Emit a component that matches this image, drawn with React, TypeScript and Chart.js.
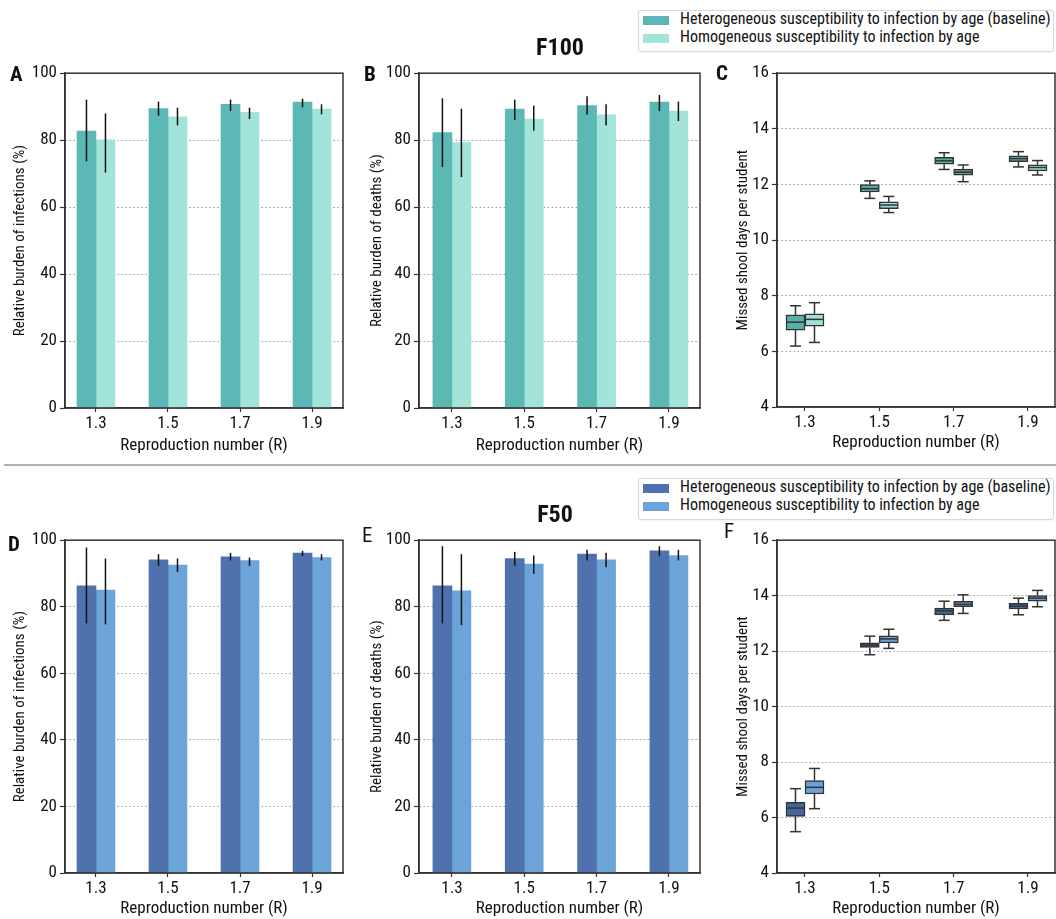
import React, { useEffect, useRef } from 'react';
import { Chart, registerables } from 'chart.js';

Chart.register(...registerables);

// ---------------- DATA ----------------
const R_VALUES = [1.3, 1.5, 1.7, 1.9];
const SERIES = [
  'Heterogeneous susceptibility to infection by age (baseline)',
  'Homogeneous susceptibility to infection by age',
];
const PANEL_TITLES = ['F100', 'F50'];
const Y_TITLES = ['Relative burden of infections (%)', 'Relative burden of deaths (%)', 'Missed shool days per student'];
const X_TITLE = 'Reproduction number (R)';

// A: F100 infections
const A_HET = [82.7, 89.4, 90.7, 91.4];
const A_HET_LO = [73.7, 87.3, 88.7, 89.8];
const A_HET_HI = [92.1, 91.5, 92.1, 92.4];
const A_HOM = [80.1, 87.0, 88.3, 89.3];
const A_HOM_LO = [70.3, 84.4, 86.3, 87.7];
const A_HOM_HI = [88.0, 89.7, 89.7, 90.7];

// B: F100 deaths
const B_HET = [82.3, 89.3, 90.3, 91.4];
const B_HET_LO = [72.0, 86.0, 87.7, 88.7];
const B_HET_HI = [92.5, 92.1, 93.1, 93.5];
const B_HOM = [79.3, 86.3, 87.6, 88.7];
const B_HOM_LO = [69.0, 82.8, 84.4, 85.7];
const B_HOM_HI = [89.4, 90.3, 90.7, 91.5];

// C: F100 missed school days [min, q1, median, q3, max]
const C_HET_BOX = [
  [6.19, 6.76, 7.05, 7.31, 7.64],
  [11.5, 11.73, 11.85, 12.0, 12.13],
  [12.54, 12.73, 12.85, 12.98, 13.14],
  [12.63, 12.82, 12.93, 13.03, 13.18],
];
const C_HOM_BOX = [
  [6.32, 6.91, 7.15, 7.35, 7.75],
  [10.99, 11.13, 11.26, 11.38, 11.57],
  [12.1, 12.33, 12.44, 12.55, 12.7],
  [12.34, 12.49, 12.61, 12.71, 12.86],
];

// D: F50 infections
const D_HET = [86.3, 94.1, 95.0, 96.1];
const D_HET_LO = [75.0, 92.3, 93.9, 95.3];
const D_HET_HI = [97.8, 95.8, 96.2, 96.8];
const D_HOM = [85.0, 92.5, 93.9, 94.8];
const D_HOM_LO = [74.7, 90.5, 92.3, 93.9];
const D_HOM_HI = [94.5, 94.5, 94.8, 95.8];

// E: F50 deaths
const E_HET = [86.3, 94.5, 95.8, 96.8];
const E_HET_LO = [75.0, 92.3, 93.9, 95.2];
const E_HET_HI = [98.2, 96.5, 97.1, 98.2];
const E_HOM = [84.8, 92.8, 94.1, 95.4];
const E_HOM_LO = [74.5, 89.9, 91.9, 93.9];
const E_HOM_HI = [95.8, 95.4, 96.2, 97.1];

// F: F50 missed school days [min, q1, median, q3, max]
const F_HET_BOX = [
  [5.49, 6.04, 6.34, 6.55, 7.04],
  [11.87, 12.13, 12.22, 12.3, 12.54],
  [13.11, 13.31, 13.45, 13.55, 13.8],
  [13.31, 13.52, 13.62, 13.72, 13.91],
];
const F_HOM_BOX = [
  [6.32, 6.85, 7.09, 7.33, 7.77],
  [12.1, 12.3, 12.44, 12.55, 12.79],
  [13.36, 13.6, 13.69, 13.8, 14.03],
  [13.6, 13.8, 13.91, 14.0, 14.19],
];

// ---------------- STYLE ----------------
const FONT = "'Roboto Condensed', 'Liberation Sans Narrow', Roboto, sans-serif";
const TEXT = '#111';
const AXIS = '#333';
const GRID = '#9a9a9a';
const TEAL = ['#5cb8b4', '#a2e3da'];
const BLUE = ['#4f72ae', '#6ca3d8'];
const C_BOX_COLORS = [['#55b0ac', '#55b0ac', '#55b0ac', '#55b0ac'], ['#a0e0d8', '#a0e0d8', '#5f9e98', '#a0e0d8']];
const F_BOX_COLORS = [['#4466a0', '#4466a0', '#4466a0', '#4466a0'], ['#6aa2d8', '#6aa2d8', '#6aa2d8', '#6aa2d8']];

Chart.defaults.font.family = FONT;

type Geo = {
  left: number; top: number; width: number; height: number;
  padTop: number; padRight: number; yWidth: number; xHeight: number;
  yTitlePad: number; xTitlePad: number; xMin: number; xMax: number;
};

const framePlugin = {
  id: 'frame',
  afterDraw(chart: any) {
    const { ctx, chartArea: a } = chart;
    ctx.save();
    ctx.strokeStyle = AXIS;
    ctx.lineWidth = 1.5;
    ctx.strokeRect(a.left, a.top, a.right - a.left, a.bottom - a.top);
    ctx.restore();
  },
};

function errorBarPlugin(ranges: number[][][]) {
  return {
    id: 'errorBars',
    afterDatasetsDraw(chart: any) {
      const { ctx } = chart;
      const y = chart.scales.y;
      ctx.save();
      ctx.strokeStyle = '#111';
      ctx.lineWidth = 1.5;
      ranges.forEach((r, di) => {
        const meta = chart.getDatasetMeta(di);
        meta.data.forEach((el: any, i: number) => {
          ctx.beginPath();
          ctx.moveTo(el.x, y.getPixelForValue(r[0][i]));
          ctx.lineTo(el.x, y.getPixelForValue(r[1][i]));
          ctx.stroke();
        });
      });
      ctx.restore();
    },
  };
}

function boxPlugin(boxes: number[][][]) {
  return {
    id: 'boxWhiskers',
    afterDatasetsDraw(chart: any) {
      const { ctx } = chart;
      const y = chart.scales.y;
      ctx.save();
      ctx.strokeStyle = '#333';
      ctx.lineWidth = 1.5;
      const line = (x1: number, y1: number, x2: number, y2: number) => {
        ctx.beginPath();
        ctx.moveTo(x1, y1);
        ctx.lineTo(x2, y2);
        ctx.stroke();
      };
      boxes.forEach((set, di) => {
        const meta = chart.getDatasetMeta(di);
        meta.data.forEach((el: any, i: number) => {
          const [mn, q1, md, q3, mx] = set[i];
          const x = el.x;
          const w = el.width;
          const pMin = y.getPixelForValue(mn);
          const pMax = y.getPixelForValue(mx);
          line(x, y.getPixelForValue(q3), x, pMax);
          line(x, y.getPixelForValue(q1), x, pMin);
          line(x - 5.5, pMax, x + 5.5, pMax);
          line(x - 5.5, pMin, x + 5.5, pMin);
          const pMd = y.getPixelForValue(md);
          line(x - w / 2 + 1, pMd, x + w / 2 - 1, pMd);
        });
      });
      ctx.restore();
    },
  };
}

function baseOptions(g: Geo, yMin: number, yMax: number, yStep: number, yTitle: string) {
  return {
    responsive: false,
    maintainAspectRatio: false,
    animation: false,
    layout: { padding: { top: g.padTop, right: g.padRight, left: 0, bottom: 0 } },
    plugins: { legend: { display: false }, tooltip: { enabled: false }, title: { display: false } },
    scales: {
      x: {
        type: 'linear',
        min: g.xMin,
        max: g.xMax,
        offset: false,
        afterBuildTicks: (s: any) => {
          s.ticks = R_VALUES.map((v) => ({ value: v }));
        },
        afterFit: (s: any) => {
          s.height = g.xHeight;
        },
        ticks: {
          callback: (v: any) => Number(v).toFixed(1),
          autoSkip: false,
          maxRotation: 0,
          padding: 2,
          color: TEXT,
          font: { size: 17 },
        },
        grid: { offset: false, drawOnChartArea: false, drawTicks: true, tickLength: 4, tickColor: AXIS, tickWidth: 1.2 },
        border: { color: AXIS, width: 1.5 },
        title: { display: true, text: X_TITLE, color: TEXT, font: { size: 17 }, padding: { top: 0, bottom: g.xTitlePad } },
      },
      y: {
        type: 'linear',
        min: yMin,
        max: yMax,
        afterFit: (s: any) => {
          s.width = g.yWidth;
        },
        ticks: { stepSize: yStep, padding: 3, color: TEXT, font: { size: 17 } },
        grid: {
          color: (c: any) => (c.tick && (c.tick.value === yMin || c.tick.value === yMax) ? 'rgba(0,0,0,0)' : GRID),
          lineWidth: 1,
          tickLength: 5,
          tickColor: AXIS,
          tickWidth: 1.2,
        },
        border: { color: AXIS, width: 1.5, dash: [1.5, 2.5] },
        title: { display: true, text: yTitle, color: TEXT, font: { size: 15 }, padding: { top: g.yTitlePad, bottom: 0 } },
      },
    },
  };
}

function barConfig(
  g: Geo, het: number[], hom: number[], hetLo: number[], hetHi: number[], homLo: number[], homHi: number[],
  colors: string[], yTitle: string,
) {
  return {
    type: 'bar',
    data: {
      datasets: [
        { label: SERIES[0], data: R_VALUES.map((x, i) => ({ x, y: het[i] })), backgroundColor: colors[0], barThickness: 19 },
        { label: SERIES[1], data: R_VALUES.map((x, i) => ({ x, y: hom[i] })), backgroundColor: colors[1], barThickness: 19 },
      ],
    },
    options: baseOptions(g, 0, 100, 20, yTitle),
    plugins: [framePlugin, errorBarPlugin([[hetLo, hetHi], [homLo, homHi]])],
  };
}

function boxConfig(g: Geo, het: number[][], hom: number[][], colors: string[][], yTitle: string) {
  return {
    type: 'bar',
    data: {
      datasets: [het, hom].map((set, di) => ({
        label: SERIES[di],
        data: R_VALUES.map((x, i) => ({ x, y: [set[i][1], set[i][3]] })),
        backgroundColor: colors[di],
        borderColor: '#333',
        borderWidth: 1.5,
        borderSkipped: false,
        barThickness: 19,
      })),
    },
    options: baseOptions(g, 4, 16, 2, yTitle),
    plugins: [framePlugin, boxPlugin([het, hom])],
  };
}

function ChartPanel({ geo, make }: { geo: Geo; make: () => any }) {
  const ref = useRef<HTMLCanvasElement>(null);
  useEffect(() => {
    const chart = new Chart(ref.current as HTMLCanvasElement, make());
    return () => chart.destroy();
  }, []);
  return (
    <div style={{ position: 'absolute', left: geo.left, top: geo.top, width: geo.width, height: geo.height }}>
      <canvas ref={ref} width={geo.width} height={geo.height} style={{ display: 'block', width: geo.width, height: geo.height }} />
    </div>
  );
}

function Legend({ top, colors }: { top: number; colors: string[] }) {
  return (
    <div
      style={{
        position: 'absolute', left: 638, top, width: 416, height: 42, boxSizing: 'border-box',
        border: '1px solid #d8d8d8', borderRadius: 3, background: '#fff',
        boxShadow: '0 1px 1px rgba(0,0,0,0.05)', fontFamily: FONT, fontSize: 16, color: TEXT,
      }}
    >
      {SERIES.map((s, i) => (
        <React.Fragment key={s}>
          <div style={{ position: 'absolute', left: 4, top: 5 + i * 18, width: 26, height: 9, background: colors[i] }} />
          <div style={{ position: 'absolute', left: 41, top: -1 + i * 18, lineHeight: '18px', whiteSpace: 'nowrap' }}>{s}</div>
        </React.Fragment>
      ))}
    </div>
  );
}

function Label({ text, left, top, size, weight, center }: { text: string; left: number; top: number; size: number; weight: number; center?: boolean }) {
  return (
    <div
      style={{
        position: 'absolute', left, top, fontFamily: FONT, fontSize: size, fontWeight: weight,
        lineHeight: `${size}px`, color: '#111', whiteSpace: 'nowrap',
        transform: center ? 'translateX(-50%)' : undefined,
      }}
    >
      {text}
    </div>
  );
}

const GEO_A: Geo = { left: 0, top: 60, width: 350, height: 400, padTop: 11, padRight: 7, yWidth: 65, xHeight: 52, yTitlePad: 11, xTitlePad: 4, xMin: 1.214, xMax: 1.986 };
const GEO_B: Geo = { left: 355, top: 60, width: 350, height: 400, padTop: 11, padRight: 5, yWidth: 64, xHeight: 52, yTitlePad: 13, xTitlePad: 4, xMin: 1.209, xMax: 1.986 };
const GEO_C: Geo = { left: 715, top: 60, width: 341, height: 400, padTop: 11, padRight: 1, yWidth: 62, xHeight: 53, yTitlePad: 19, xTitlePad: 7, xMin: 1.2247, xMax: 1.9727 };
const GEO_D: Geo = { left: 0, top: 527, width: 350, height: 392, padTop: 10, padRight: 7, yWidth: 65, xHeight: 46, yTitlePad: 11, xTitlePad: 0, xMin: 1.214, xMax: 1.986 };
const GEO_E: Geo = { left: 355, top: 527, width: 350, height: 392, padTop: 10, padRight: 5, yWidth: 64, xHeight: 46, yTitlePad: 13, xTitlePad: 0, xMin: 1.209, xMax: 1.986 };
const GEO_F: Geo = { left: 715, top: 527, width: 341, height: 392, padTop: 10, padRight: 1, yWidth: 62, xHeight: 46, yTitlePad: 19, xTitlePad: 0, xMin: 1.2247, xMax: 1.9727 };

export default function App() {
  return (
    <div style={{ position: 'absolute', left: 0, top: 0, width: 1056, height: 919, background: '#fff', overflow: 'hidden' }}>
      <ChartPanel geo={GEO_A} make={() => barConfig(GEO_A, A_HET, A_HOM, A_HET_LO, A_HET_HI, A_HOM_LO, A_HOM_HI, TEAL, Y_TITLES[0])} />
      <ChartPanel geo={GEO_B} make={() => barConfig(GEO_B, B_HET, B_HOM, B_HET_LO, B_HET_HI, B_HOM_LO, B_HOM_HI, TEAL, Y_TITLES[1])} />
      <ChartPanel geo={GEO_C} make={() => boxConfig(GEO_C, C_HET_BOX, C_HOM_BOX, C_BOX_COLORS, Y_TITLES[2])} />
      <ChartPanel geo={GEO_D} make={() => barConfig(GEO_D, D_HET, D_HOM, D_HET_LO, D_HET_HI, D_HOM_LO, D_HOM_HI, BLUE, Y_TITLES[0])} />
      <ChartPanel geo={GEO_E} make={() => barConfig(GEO_E, E_HET, E_HOM, E_HET_LO, E_HET_HI, E_HOM_LO, E_HOM_HI, BLUE, Y_TITLES[1])} />
      <ChartPanel geo={GEO_F} make={() => boxConfig(GEO_F, F_HET_BOX, F_HOM_BOX, F_BOX_COLORS, Y_TITLES[2])} />

      <Legend top={10} colors={TEAL} />
      <Legend top={478} colors={BLUE} />

      <Label text={PANEL_TITLES[0]} left={560} top={35} size={24} weight={700} center />
      <Label text={PANEL_TITLES[1]} left={555} top={502} size={24} weight={700} center />

      <Label text="A" left={10} top={64} size={21} weight={700} />
      <Label text="B" left={364} top={64} size={21} weight={700} />
      <Label text="C" left={716} top={63} size={21} weight={700} />
      <Label text="D" left={8} top={534} size={21} weight={700} />
      <Label text="E" left={362} top={525} size={21} weight={400} />
      <Label text="F" left={724} top={521} size={21} weight={400} />

      <div style={{ position: 'absolute', left: 4, top: 464, width: 1052, height: 2, background: '#b0b0b0' }} />
    </div>
  );
}
